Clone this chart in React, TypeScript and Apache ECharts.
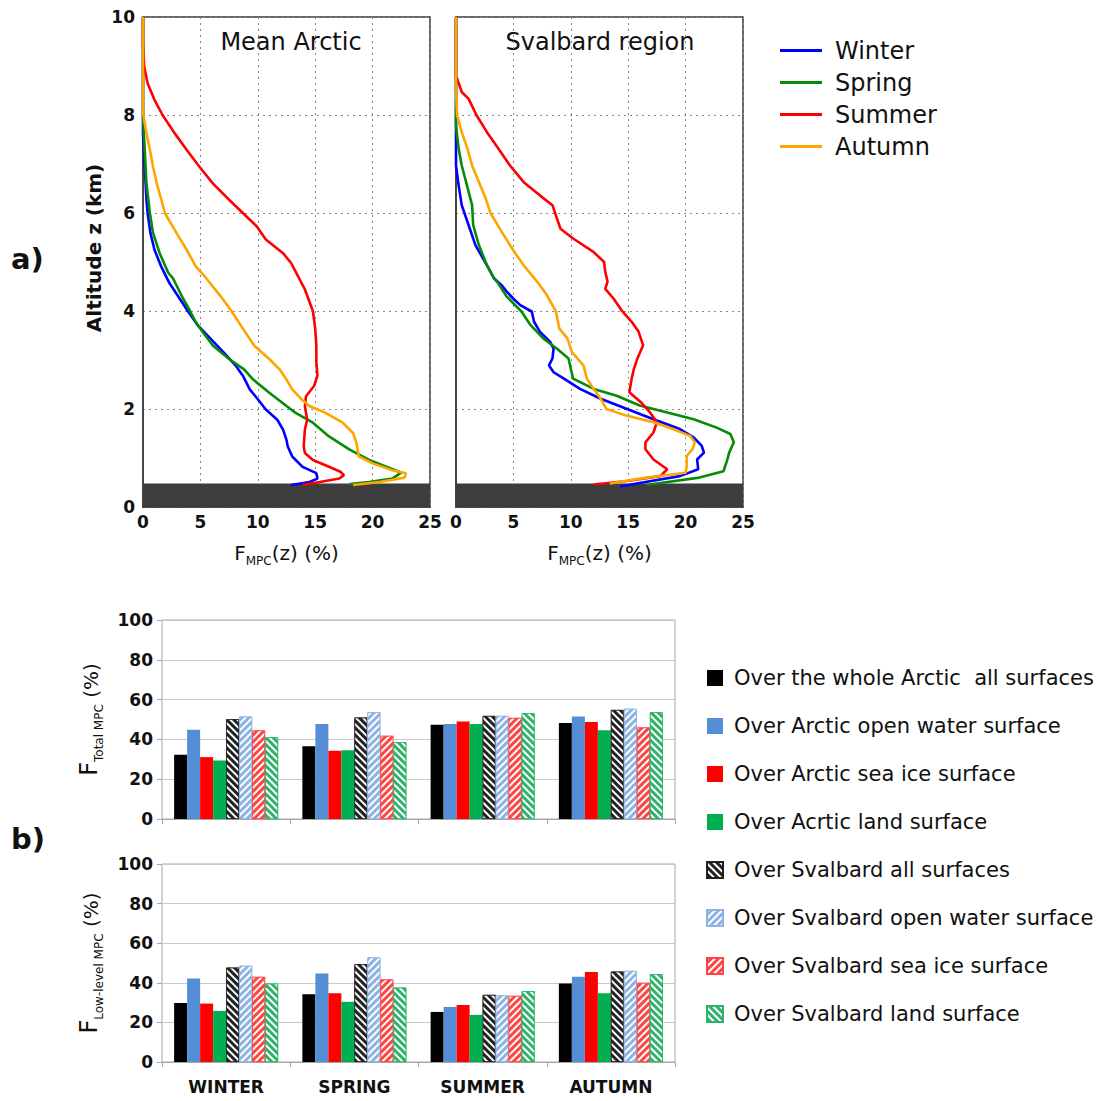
import React, { useEffect, useRef } from 'react';
import * as echarts from 'echarts';

const FONT = 'DejaVu Sans, Verdana, sans-serif';
const TXT = '#111';

const seasons = ['Winter', 'Spring', 'Summer', 'Autumn'];
const seasonColors = ['#0000ff', '#078a07', '#ff0000', '#ffa500'];

// [F_MPC (%), altitude (km)] read from the profiles, top to bottom
const arcticWinter = [[0,10],[0,7.6],[0.15,6.95],[0.3,6.27],[0.4,6.0],[0.64,5.6],[1.0,5.25],[1.6,4.9],[2.3,4.57],[3.0,4.32],[3.9,4.0],[4.8,3.7],[5.9,3.43],[7.0,3.16],[8.1,2.88],[8.7,2.68],[9.3,2.4],[10.0,2.2],[10.7,1.99],[11.7,1.78],[12.2,1.58],[12.5,1.37],[12.6,1.24],[13.0,1.03],[13.9,0.82],[15.1,0.69],[15.2,0.58],[14.5,0.51],[12.9,0.45]];
const arcticSpring = [[0,10],[0,7.97],[0.15,7.29],[0.3,6.6],[0.6,6.0],[0.87,5.6],[1.45,5.18],[2.2,4.78],[2.6,4.67],[3.5,4.25],[4.1,4.0],[4.6,3.77],[5.2,3.57],[6.1,3.29],[7.5,3.02],[8.8,2.81],[9.6,2.6],[11.0,2.33],[12.5,2.06],[13.3,1.92],[14.8,1.72],[16.2,1.44],[18.0,1.17],[19.7,0.96],[21.2,0.82],[22.5,0.7],[21.7,0.58],[19.7,0.51],[18.0,0.47]];
const arcticSummer = [[0,10],[0,9.5],[0.1,9.0],[0.4,8.65],[1.0,8.31],[1.7,8.0],[2.75,7.63],[3.8,7.29],[4.9,6.95],[6.1,6.6],[7.5,6.27],[8.7,6.0],[9.9,5.73],[10.7,5.46],[12.2,5.18],[12.9,4.98],[13.5,4.71],[14.1,4.44],[14.8,4.0],[15.0,3.64],[15.1,3.29],[15.1,2.95],[15.2,2.68],[14.9,2.47],[14.2,2.26],[14.1,2.06],[14.3,1.78],[14.1,1.58],[14.0,1.24],[14.1,1.1],[14.8,0.96],[16.2,0.82],[17.2,0.72],[17.5,0.65],[17.1,0.58],[15.4,0.51],[13.9,0.45]];
const arcticAutumn = [[0,10],[0,8.04],[0.3,7.63],[0.6,7.29],[0.87,6.95],[1.2,6.6],[1.6,6.27],[1.9,6.0],[2.9,5.6],[3.8,5.25],[4.6,4.91],[5.4,4.7],[6.7,4.32],[7.7,4.0],[8.7,3.64],[9.7,3.29],[11.0,3.02],[11.9,2.81],[12.5,2.6],[13.0,2.4],[13.8,2.2],[14.5,2.06],[15.9,1.92],[17.4,1.72],[18.3,1.51],[18.6,1.3],[18.8,1.03],[20.0,0.89],[21.7,0.75],[22.9,0.69],[22.8,0.6],[20.6,0.51],[18.3,0.45]];

const svalbardWinter = [[0,10],[0,6.97],[0.23,6.56],[0.5,6.16],[1.1,5.75],[1.7,5.34],[2.7,4.93],[3.3,4.67],[4.0,4.52],[4.4,4.4],[5.0,4.25],[5.6,4.12],[6.6,3.99],[6.8,3.78],[7.3,3.58],[8.2,3.37],[8.5,3.23],[8.4,3.03],[8.1,2.89],[8.5,2.75],[9.4,2.62],[10.8,2.41],[12.6,2.21],[14.9,2.0],[17.2,1.79],[19.5,1.59],[20.7,1.42],[21.4,1.25],[21.6,1.11],[21.0,0.97],[21.1,0.77],[19.5,0.63],[16.0,0.49],[14.3,0.42]];
const svalbardSpring = [[0,10],[0,7.79],[0.23,7.31],[0.5,6.97],[0.96,6.56],[1.4,6.16],[1.5,5.75],[2.0,5.34],[2.7,4.93],[3.3,4.67],[3.6,4.59],[4.4,4.3],[5.7,3.99],[6.5,3.71],[7.6,3.44],[8.8,3.23],[9.8,3.03],[10.0,2.82],[10.2,2.62],[12.0,2.41],[14.0,2.27],[16.0,2.07],[18.4,1.93],[20.7,1.79],[22.7,1.62],[23.9,1.49],[24.2,1.32],[23.8,1.11],[23.6,0.94],[23.3,0.73],[21.2,0.6],[17.8,0.49],[16.6,0.45]];
const svalbardSummer = [[0,10],[0,8.81],[0.5,8.47],[1.1,8.33],[1.8,7.99],[2.7,7.65],[3.7,7.31],[4.7,6.97],[5.9,6.63],[7.3,6.36],[8.4,6.16],[8.7,5.95],[9.1,5.68],[10.2,5.48],[12.0,5.2],[12.9,5.0],[13.0,4.8],[13.2,4.6],[13.0,4.45],[13.7,4.26],[14.5,3.99],[15.3,3.78],[15.9,3.58],[16.3,3.3],[15.8,3.03],[15.5,2.82],[15.3,2.62],[15.1,2.34],[16.1,2.14],[16.9,1.93],[17.5,1.73],[17.2,1.52],[16.5,1.32],[16.5,1.18],[17.2,0.97],[18.4,0.77],[17.8,0.63],[14.9,0.53],[12.0,0.46]];
const svalbardAutumn = [[0,10],[0,8.47],[0.1,7.99],[0.5,7.65],[1.0,7.31],[1.4,6.97],[2.0,6.63],[2.6,6.29],[3.0,6.0],[4.0,5.61],[4.9,5.27],[5.9,4.93],[7.1,4.59],[7.9,4.33],[8.7,3.99],[9.0,3.64],[9.7,3.44],[10.1,3.16],[11.1,2.89],[11.4,2.62],[12.0,2.41],[12.6,2.21],[13.1,2.0],[14.9,1.86],[17.2,1.73],[18.9,1.59],[20.4,1.45],[20.8,1.32],[20.6,1.18],[20.1,1.04],[20.1,0.84],[20.0,0.7],[16.6,0.6],[13.4,0.48]];

const arcticProfiles = [arcticWinter, arcticSpring, arcticSummer, arcticAutumn];
const svalbardProfiles = [svalbardWinter, svalbardSpring, svalbardSummer, svalbardAutumn];
const surfaceTop = 0.48;

const xTicks = [0, 5, 10, 15, 20, 25];

// bar charts
const barCategories = ['WINTER', 'SPRING', 'SUMMER', 'AUTUMN'];
const barNames = [
  'Over the whole Arctic  all surfaces',
  'Over Arctic open water surface',
  'Over Arctic sea ice surface',
  'Over Acrtic land surface',
  'Over Svalbard all surfaces',
  'Over Svalbard open water surface',
  'Over Svalbard sea ice surface',
  'Over Svalbard land surface',
];
const barColors = ['#000000', '#558ed5', '#ff0000', '#00b050', '#222222', '#8db3e2', '#ff4444', '#2fb36a'];
const barHatched = [false, false, false, false, true, true, true, true];
const hatchDir = [0, 0, 0, 0, 1, -1, -1, 1];

const totalWholeArctic = [32.3, 36.5, 47.3, 48.2];
const totalArcticWater = [44.8, 47.8, 47.7, 51.5];
const totalArcticIce = [31.1, 34.3, 49.0, 48.7];
const totalArcticLand = [29.4, 34.5, 47.7, 44.6];
const totalSvalbardAll = [50.2, 51.0, 51.8, 54.8];
const totalSvalbardWater = [51.5, 53.7, 51.8, 55.4];
const totalSvalbardIce = [44.5, 41.8, 50.8, 46.0];
const totalSvalbardLand = [41.1, 38.6, 53.2, 53.7];

const lowWholeArctic = [29.8, 34.2, 25.3, 39.6];
const lowArcticWater = [42.2, 44.7, 27.8, 43.0];
const lowArcticIce = [29.5, 34.7, 28.8, 45.4];
const lowArcticLand = [25.8, 30.4, 23.8, 34.7];
const lowSvalbardAll = [47.7, 49.4, 33.9, 45.7];
const lowSvalbardWater = [48.6, 52.8, 33.6, 46.0];
const lowSvalbardIce = [43.0, 41.7, 33.4, 40.0];
const lowSvalbardLand = [39.6, 37.6, 35.8, 44.4];

const totalSets = [totalWholeArctic, totalArcticWater, totalArcticIce, totalArcticLand, totalSvalbardAll, totalSvalbardWater, totalSvalbardIce, totalSvalbardLand];
const lowSets = [lowWholeArctic, lowArcticWater, lowArcticIce, lowArcticLand, lowSvalbardAll, lowSvalbardWater, lowSvalbardIce, lowSvalbardLand];

const yTicksBar = [0, 20, 40, 60, 80, 100];

function buildOption() {
  const tickStyle = { fontFamily: FONT, fontSize: 17, fontWeight: 'bold', color: TXT };
  const profileGrids = [
    { left: 143, top: 17, width: 287, height: 490 },
    { left: 456, top: 17, width: 287, height: 490 },
  ].map((g) => ({ ...g, show: true, borderColor: '#3a3a3a', borderWidth: 1.5, containLabel: false }));
  const barGrids = [
    { left: 162, top: 620, width: 513, height: 199 },
    { left: 162, top: 864, width: 513, height: 198 },
  ].map((g) => ({ ...g, show: true, borderColor: '#a8a8a8', borderWidth: 1, containLabel: false }));

  const mpcName = '{m|F}{s|MPC}{m|(z) (%)}';
  const mpcRich = {
    m: { fontFamily: FONT, fontSize: 20, color: TXT, lineHeight: 26, verticalAlign: 'bottom' },
    s: { fontFamily: FONT, fontSize: 12, color: TXT, lineHeight: 26, verticalAlign: 'bottom', padding: [0, 0, -4, 0] },
  };

  const xAxes: any[] = [0, 1].map((i) => ({
    type: 'value', gridIndex: i, min: 0, max: 25, interval: 5,
    axisLine: { show: true, lineStyle: { color: '#3a3a3a', width: 1.5 } },
    axisTick: { show: false },
    axisLabel: { ...tickStyle, margin: 6, formatter: (v: number) => (xTicks.includes(v) ? String(v) : '') },
    splitLine: { show: true, lineStyle: { color: '#888', type: [2, 4], width: 1 } },
    name: mpcName, nameLocation: 'middle', nameGap: 30,
    nameTextStyle: { rich: mpcRich },
  }));
  const yAxes: any[] = [0, 1].map((i) => ({
    type: 'value', gridIndex: i, min: 0, max: 10, interval: 2,
    axisLine: { show: true, lineStyle: { color: '#3a3a3a', width: 1.5 } },
    axisTick: { show: false },
    axisLabel: { ...tickStyle, show: i === 0, margin: 8 },
    splitLine: { show: true, lineStyle: { color: '#888', type: [2, 4], width: 1 } },
  }));

  const barYNames = ['{m|F}{s|Total MPC}{p| (%)}', '{m|F}{s|Low-level MPC}{p| (%)}'];
  const barRich = {
    m: { fontFamily: FONT, fontSize: 24, color: TXT, lineHeight: 28, verticalAlign: 'bottom' },
    s: { fontFamily: FONT, fontSize: 12, color: TXT, lineHeight: 28, verticalAlign: 'bottom', padding: [0, 0, -4, 0] },
    p: { fontFamily: FONT, fontSize: 20, color: TXT, lineHeight: 28, verticalAlign: 'bottom' },
  };

  [0, 1].forEach((c) => {
    xAxes.push({
      type: 'category', gridIndex: 2 + c, data: barCategories,
      axisLine: { show: true, lineStyle: { color: '#a8a8a8' } },
      axisTick: { show: true, length: 5, lineStyle: { color: '#a8a8a8' } },
      axisLabel: { show: c === 1, fontFamily: FONT, fontSize: 17, fontWeight: 'bold', color: TXT, margin: 16 },
    });
    yAxes.push({
      type: 'value', gridIndex: 2 + c, min: 0, max: 100, interval: 20,
      axisLine: { show: false },
      axisTick: { show: true, length: 5, lineStyle: { color: '#a8a8a8' } },
      axisLabel: { fontFamily: FONT, fontSize: 17, fontWeight: 'bold', color: TXT, margin: 9, formatter: (v: number) => (yTicksBar.includes(v) ? String(v) : '') },
      splitLine: { show: true, lineStyle: { color: '#c8c8c8', width: 1 } },
      name: barYNames[c], nameLocation: 'middle', nameRotate: 90, nameGap: 61,
      nameTextStyle: { rich: barRich },
    });
  });

  const series: any[] = [];
  [arcticProfiles, svalbardProfiles].forEach((profiles, p) => {
    profiles.forEach((data, s) => {
      const ser: any = {
        type: 'line', name: seasons[s], xAxisIndex: p, yAxisIndex: p, data,
        symbol: 'none', showSymbol: false, smooth: false,
        lineStyle: { width: 2.6, color: seasonColors[s] },
        itemStyle: { color: seasonColors[s] },
        z: 3,
      };
      if (s === 0) {
        ser.markArea = {
          silent: true,
          itemStyle: { color: '#3d3d3d' },
          data: [[{ coord: [0, 0] }, { coord: [25, surfaceTop] }]],
          z: 1,
        };
      }
      series.push(ser);
    });
  });

  [totalSets, lowSets].forEach((sets, c) => {
    sets.forEach((data, k) => {
      const itemStyle: any = { color: barColors[k] };
      if (barHatched[k]) {
        itemStyle.borderColor = barColors[k];
        itemStyle.borderWidth = 0.8;
        itemStyle.decal = {
          symbol: 'rect', symbolSize: 1, color: '#ffffff',
          dashArrayX: [1, 0], dashArrayY: [2, 2.2],
          rotation: hatchDir[k] * Math.PI / 4,
        };
      }
      series.push({
        type: 'bar', name: barNames[k], xAxisIndex: 2 + c, yAxisIndex: 2 + c, data,
        barWidth: 13, barGap: '0%', itemStyle,
      });
    });
  });

  return {
    animation: false,
    backgroundColor: '#ffffff',
    grid: [...profileGrids, ...barGrids],
    xAxis: xAxes,
    yAxis: yAxes,
    legend: [
      {
        data: seasons, orient: 'vertical', left: 780, top: 37, padding: 0,
        icon: 'rect', itemWidth: 42, itemHeight: 3, itemGap: 5,
        textStyle: { fontFamily: FONT, fontSize: 24, color: TXT, padding: [0, 0, 0, 8], lineHeight: 27 },
        selectedMode: false,
      },
      {
        data: barNames, orient: 'vertical', left: 706, top: 666, padding: 0,
        icon: 'rect', itemWidth: 16, itemHeight: 16, itemGap: 24,
        textStyle: { fontFamily: FONT, fontSize: 21, color: TXT, padding: [0, 0, 0, 6], lineHeight: 24 },
        selectedMode: false,
      },
    ],
    graphic: [
      { type: 'text', x: 291, y: 30, style: { text: 'Mean Arctic', fontFamily: FONT, fontSize: 24, fill: TXT, align: 'center', verticalAlign: 'top' } },
      { type: 'text', x: 600, y: 30, style: { text: 'Svalbard region', fontFamily: FONT, fontSize: 24, fill: TXT, align: 'center', verticalAlign: 'top' } },
      { type: 'text', x: 94, y: 248, rotation: Math.PI / 2, style: { text: 'Altitude z (km)', fontFamily: FONT, fontSize: 20, fontWeight: 'bold', fill: TXT, align: 'center', verticalAlign: 'middle' } },
      { type: 'text', x: 11, y: 244, style: { text: 'a)', fontFamily: FONT, fontSize: 29, fontWeight: 'bold', fill: TXT } },
      { type: 'text', x: 11, y: 824, style: { text: 'b)', fontFamily: FONT, fontSize: 29, fontWeight: 'bold', fill: TXT } },
    ],
    series,
  };
}

export default function App() {
  const ref = useRef<HTMLDivElement>(null);
  useEffect(() => {
    if (!ref.current) return;
    const chart = echarts.init(ref.current, undefined, { renderer: 'svg' });
    chart.setOption(buildOption() as any);
    return () => chart.dispose();
  }, []);
  return <div ref={ref} style={{ position: 'fixed', left: 0, top: 0, width: 1103, height: 1101, background: '#fff' }} />;
}
